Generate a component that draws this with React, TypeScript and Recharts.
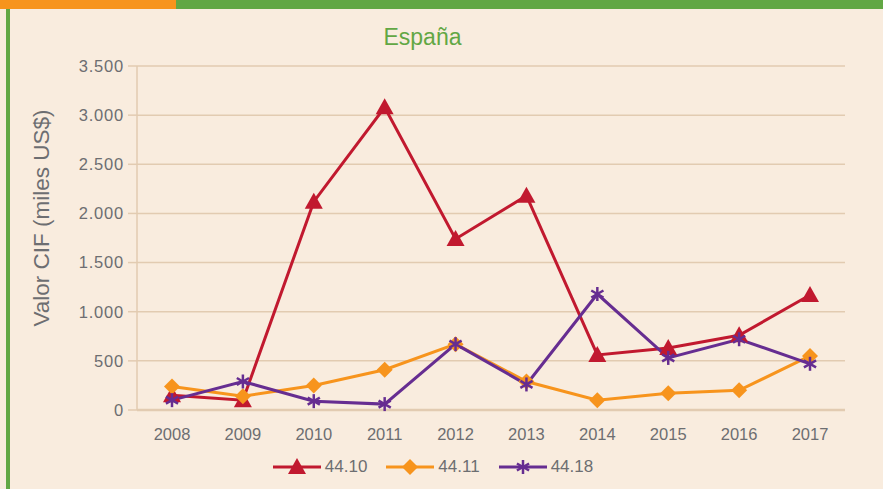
import { CartesianGrid, Legend, Line, LineChart, XAxis, YAxis } from 'recharts'

const years = ['2008', '2009', '2010', '2011', '2012', '2013', '2014', '2015', '2016', '2017']
const serie4410 = [150, 100, 2120, 3080, 1740, 2180, 560, 630, 760, 1170]
const serie4411 = [240, 140, 250, 410, 670, 290, 100, 170, 200, 550]
const serie4418 = [100, 290, 90, 60, 670, 260, 1180, 530, 720, 470]
const yTicks = [0, 500, 1000, 1500, 2000, 2500, 3000, 3500]

const RED = '#c1192f'
const ORANGE = '#f7941d'
const PURPLE = '#662d91'
const GRID = '#e2cbb1'
const TEXT = '#6d6e71'
const FONT = '"Liberation Sans", Arial, sans-serif'

const data = years.map((year, i) => ({
  year,
  a: serie4410[i],
  b: serie4411[i],
  c: serie4418[i],
}))

function Triangle({ cx, cy, color = RED }: any) {
  if (cx == null || cy == null) return null
  return <path d={`M${cx},${cy - 9} L${cx + 9},${cy + 7} L${cx - 9},${cy + 7} Z`} fill={color} />
}

function Diamond({ cx, cy, color = ORANGE }: any) {
  if (cx == null || cy == null) return null
  return <path d={`M${cx},${cy - 8} L${cx + 8},${cy} L${cx},${cy + 8} L${cx - 8},${cy} Z`} fill={color} />
}

function Asterisk({ cx, cy, color = PURPLE }: any) {
  if (cx == null || cy == null) return null
  const r = 7
  return (
    <g stroke={color} strokeWidth={2.5}>
      <line x1={cx} y1={cy - r} x2={cx} y2={cy + r} />
      <line x1={cx - r * 0.87} y1={cy - r * 0.5} x2={cx + r * 0.87} y2={cy + r * 0.5} />
      <line x1={cx - r * 0.87} y1={cy + r * 0.5} x2={cx + r * 0.87} y2={cy - r * 0.5} />
    </g>
  )
}

const legendItems = [
  { label: '44.10', color: RED, Marker: Triangle },
  { label: '44.11', color: ORANGE, Marker: Diamond },
  { label: '44.18', color: PURPLE, Marker: Asterisk },
]

function CustomLegend() {
  return (
    <div
      style={{
        height: 49,
        display: 'flex',
        justifyContent: 'center',
        alignItems: 'center',
        paddingLeft: 20,
        paddingTop: 4,
        boxSizing: 'border-box',
      }}
    >
      {legendItems.map(({ label, color, Marker }) => (
        <div key={label} style={{ display: 'flex', alignItems: 'center', margin: '0 9px' }}>
          <svg width={50} height={20}>
            <line x1={1} y1={10} x2={49} y2={10} stroke={color} strokeWidth={3} />
            <Marker cx={25} cy={10} color={color} />
          </svg>
          <span style={{ fontFamily: FONT, fontSize: 17, color: TEXT, marginLeft: 3 }}>{label}</span>
        </div>
      ))}
    </div>
  )
}

export default function App() {
  return (
    <div
      style={{
        position: 'fixed',
        left: 0,
        top: 0,
        width: 883,
        height: 489,
        background: '#f9ecde',
        overflow: 'hidden',
      }}
    >
      <div style={{ position: 'absolute', left: 0, top: 0, width: 176, height: 9, background: '#f7941d' }} />
      <div style={{ position: 'absolute', left: 176, top: 0, width: 707, height: 9, background: '#62a744' }} />
      <div style={{ position: 'absolute', left: 6, top: 9, width: 4, height: 480, background: '#62a744' }} />
      <div
        style={{
          position: 'absolute',
          left: 0,
          top: 24,
          width: 845,
          textAlign: 'center',
          fontFamily: FONT,
          fontSize: 23,
          color: '#62a744',
        }}
      >
        España
      </div>
      <div
        style={{
          position: 'absolute',
          left: 42,
          top: 218,
          transform: 'translate(-50%, -50%) rotate(-90deg)',
          whiteSpace: 'nowrap',
          fontFamily: FONT,
          fontSize: 22.5,
          color: TEXT,
        }}
      >
        Valor CIF (miles US$)
      </div>
      <div style={{ position: 'absolute', left: 0, top: 0 }}>
        <LineChart width={883} height={489} data={data} margin={{ top: 66, right: 38, bottom: 0, left: 0 }}>
          <CartesianGrid vertical={false} stroke={GRID} strokeWidth={1.5} />
          <XAxis
            dataKey="year"
            padding={{ left: 35, right: 35 }}
            height={30}
            axisLine={{ stroke: GRID, strokeWidth: 2.5 }}
            tickLine={false}
            tick={{ fill: TEXT, fontSize: 16.5, fontFamily: FONT }}
            tickMargin={12}
          />
          <YAxis
            width={137}
            domain={[0, 3500]}
            ticks={yTicks}
            interval={0}
            tickFormatter={(v: number) => v.toLocaleString('de-DE')}
            axisLine={{ stroke: GRID, strokeWidth: 1.5 }}
            tickLine={{ stroke: GRID, strokeWidth: 1.5 }}
            tickSize={9}
            tick={{ fill: TEXT, fontSize: 16.5, fontFamily: FONT, letterSpacing: 0.8 }}
            tickMargin={4}
          />
          <Legend verticalAlign="bottom" content={<CustomLegend />} />
          <Line dataKey="a" stroke={RED} strokeWidth={3} dot={<Triangle />} activeDot={false} isAnimationActive={false} />
          <Line dataKey="b" stroke={ORANGE} strokeWidth={3} dot={<Diamond />} activeDot={false} isAnimationActive={false} />
          <Line dataKey="c" stroke={PURPLE} strokeWidth={3} dot={<Asterisk />} activeDot={false} isAnimationActive={false} />
        </LineChart>
      </div>
    </div>
  )
}
